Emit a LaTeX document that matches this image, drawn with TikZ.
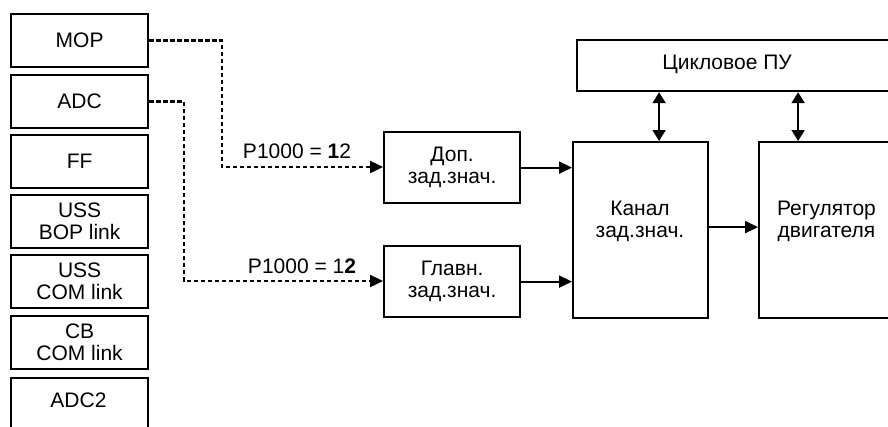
\documentclass[tikz,border=0pt]{standalone}
\usepackage{fontspec}
\setmainfont{Liberation Sans}
\usetikzlibrary{arrows.meta,calc}
\begin{document}
\begin{tikzpicture}[x=1pt,y=-1pt,
  box/.style={draw,line width=2.2pt,anchor=north west,inner sep=0pt,align=center,
    font=\fontsize{21}{22}\selectfont},
  lbox/.style={box,minimum width=137pt,minimum height=53pt},
  txt/.style={inner sep=0pt,align=center,font=\fontsize{21}{22}\selectfont},
  dline/.style={line width=2.4pt,dash pattern=on 4.5pt off 2.5pt,-{Triangle[length=13pt,width=12pt]}},
  arr/.style={line width=2pt,-{Triangle[length=13pt,width=12pt]}},
  biarr/.style={line width=2pt,{Triangle[length=11pt,width=13pt]}-{Triangle[length=11pt,width=13pt]}}]
\useasboundingbox (0,0) rectangle (888,426);
\clip (0,0) rectangle (888,426);
% left sources
\node[lbox] (mop) at (10,13) {MOP};
\node[lbox] (adc) at (10,74) {ADC};
\node[lbox] (ff) at (10,134) {FF};
\node[lbox] (ussbop) at (10,194) {USS\\BOP link};
\node[lbox] (usscom) at (10,254) {USS\\COM link};
\node[lbox] (cbcom) at (10,315) {CB\\COM link};
\node[lbox,minimum height=60pt] (adc2) at (10,377) {};
\node[txt] (adc2t) at (78.5,400) {ADC2};
% middle
\node[box,minimum width=136pt,minimum height=71pt] (dop) at (383,131) {Доп.\\зад.знач.};
\node[box,minimum width=136pt,minimum height=71pt] (glav) at (383,245) {Главн.\\зад.знач.};
\node[box,minimum width=135pt,minimum height=176pt] (kanal) at (572,141) {};
\node[txt] (kanalt) at (640,221) {Канал\\зад.знач.};
\node[box,minimum width=137pt,minimum height=176pt] (reg) at (758,141) {};
\node[txt] (regt) at (826.5,221) {Регулятор\\двигателя};
\node[box,minimum width=340pt,minimum height=51pt] (cyc) at (576,39) {};
\node[txt] (cyct) at (727,64) {Цикловое ПУ};
% dashed connectors
\coordinate (k1) at (222,167);
\coordinate (k2) at (184,281);
\draw[dline] (mop.east) -| (k1) -- (k1 -| dop.west);
\draw[dline] (adc.east) -| (k2) -- (k2 -| glav.west);
\node[txt] (l1) at (297,151) {P1000 = \textbf{1}2};
\node[txt] (l2) at (302,266) {P1000 = 1\textbf{2}};
% solid arrows
\draw[arr] (dop.east) -- (dop.east -| kanal.west);
\draw[arr] (glav.east) -- (glav.east -| kanal.west);
\draw[arr] ([yshift=3pt]kanal.east) -- ([yshift=3pt]kanal.east -| reg.west);
\draw[biarr] ([xshift=18.5pt]kanal.north |- cyc.south) -- ([xshift=18.5pt]kanal.north);
\draw[biarr] ([xshift=-29.5pt]reg.north |- cyc.south) -- ([xshift=-29.5pt]reg.north);
\end{tikzpicture}
\end{document}
